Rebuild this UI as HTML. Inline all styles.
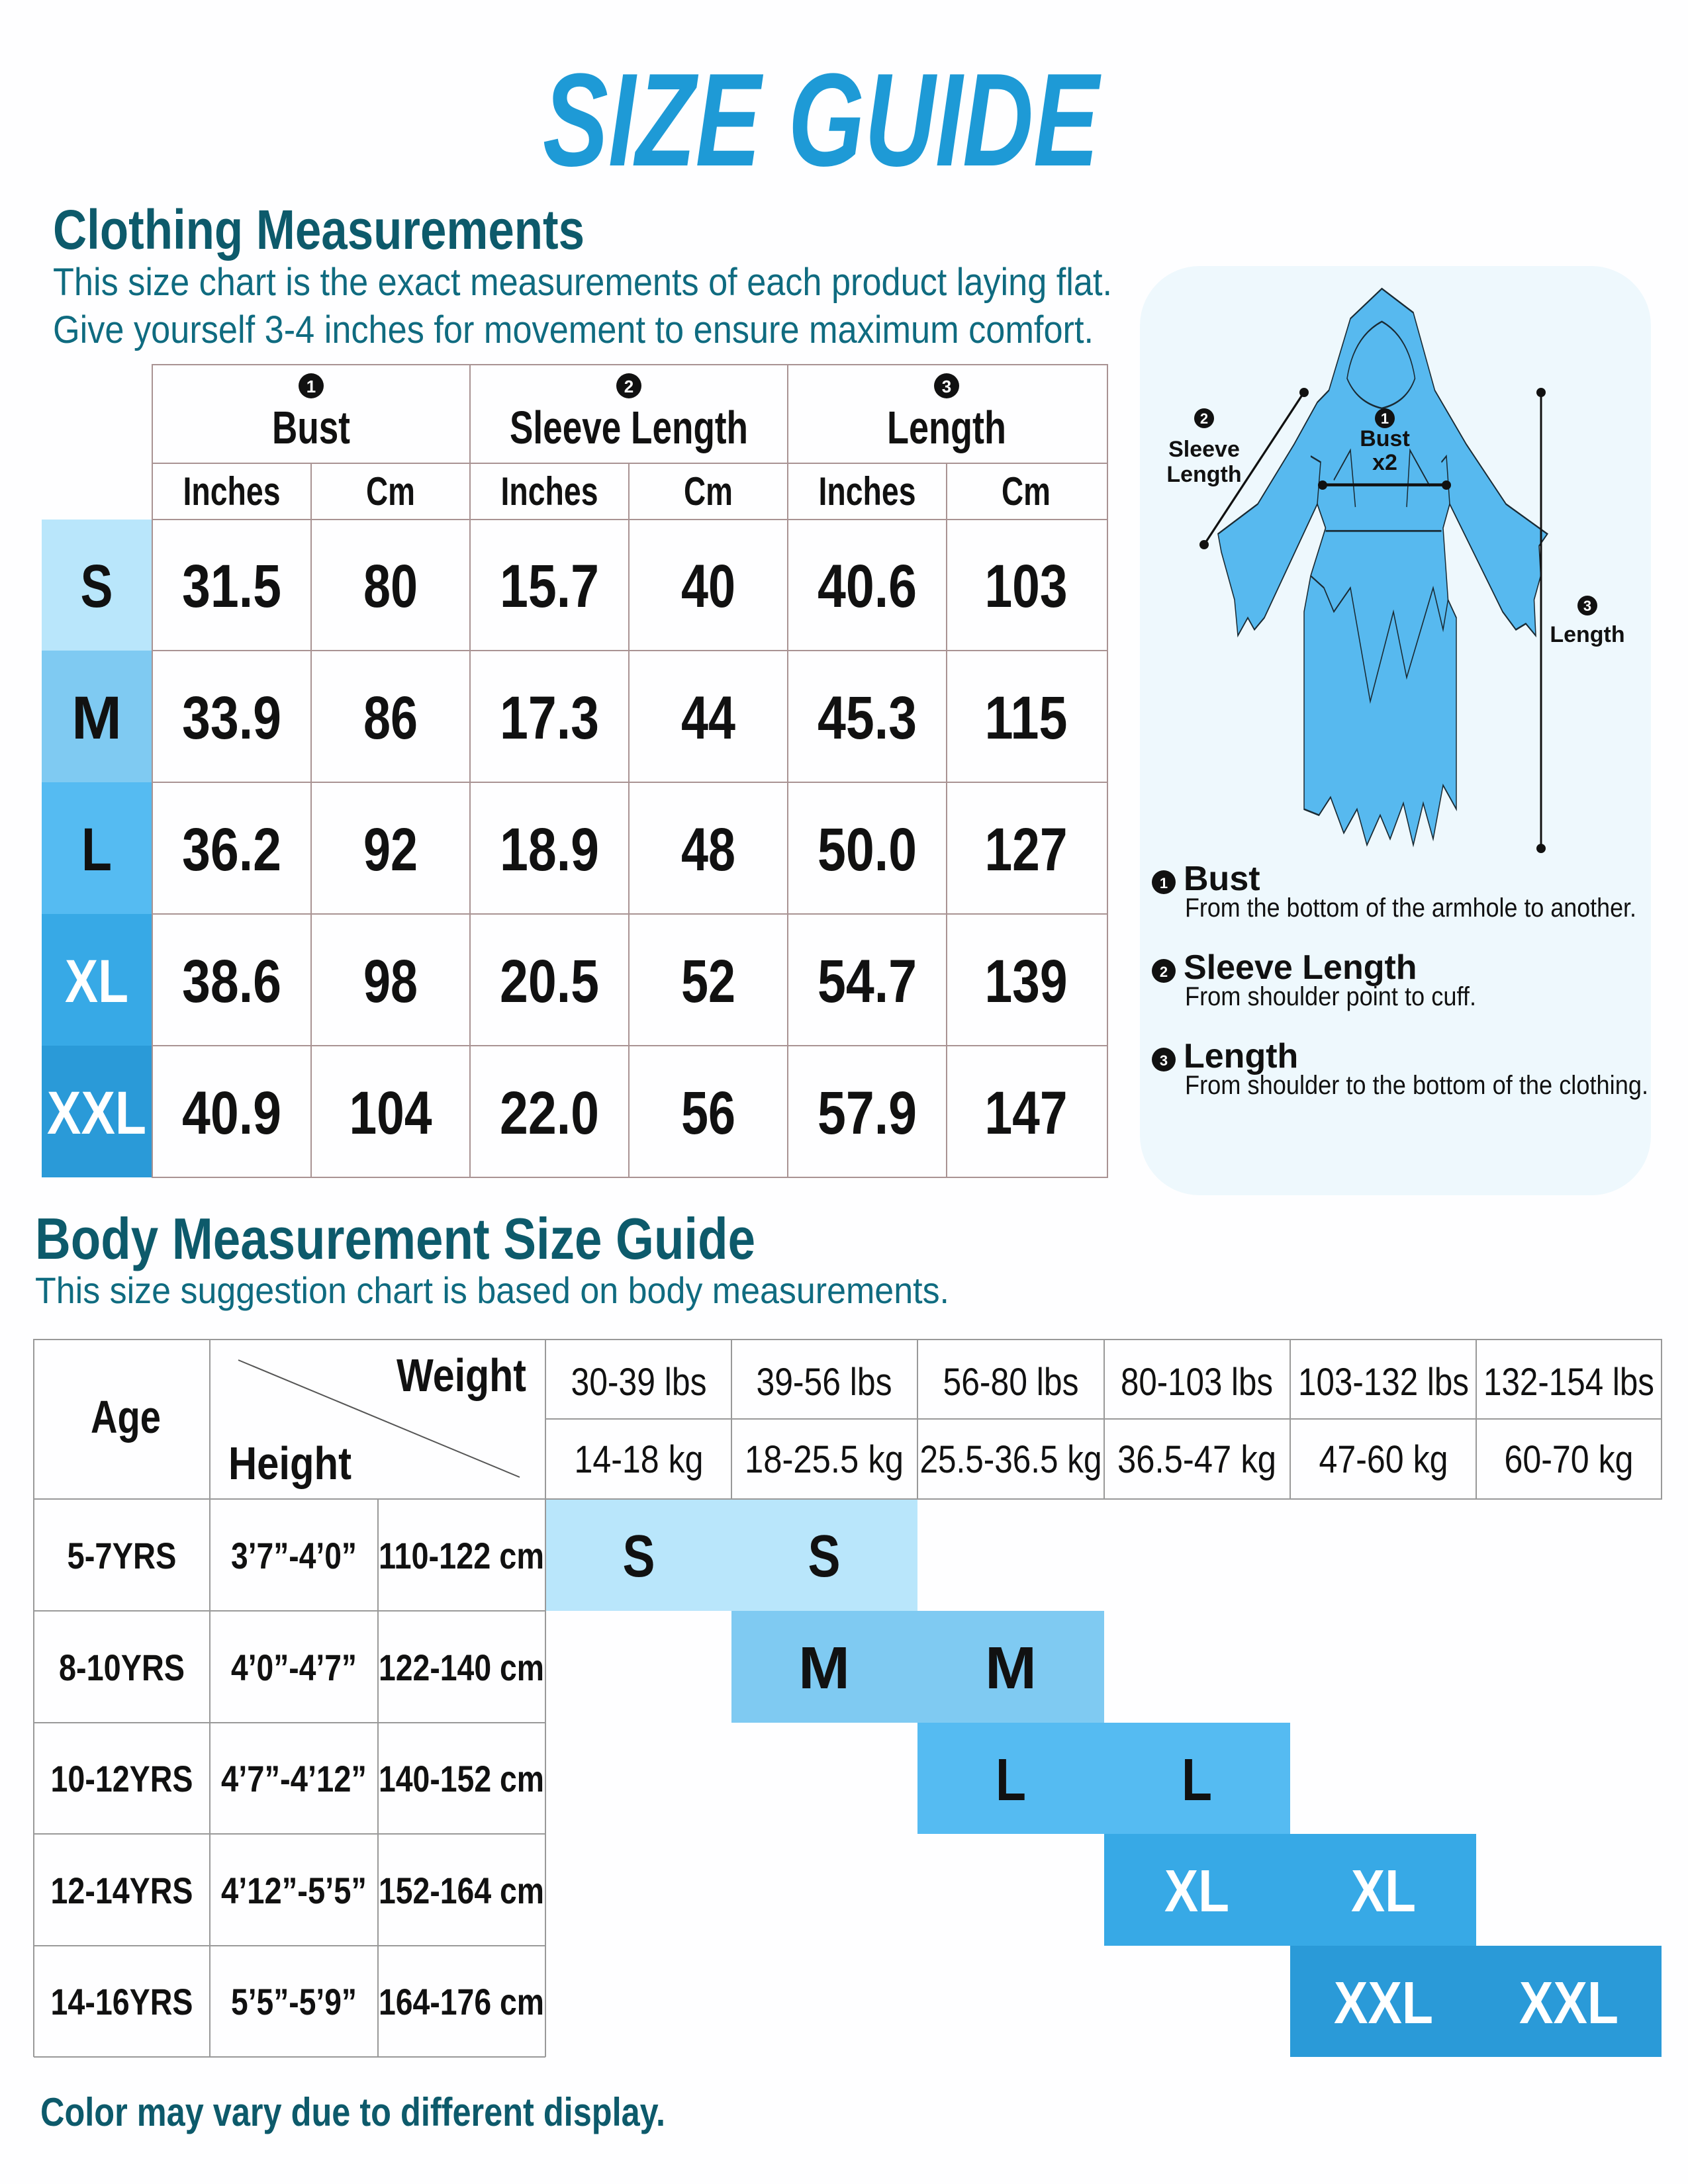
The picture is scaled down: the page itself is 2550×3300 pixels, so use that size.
<!DOCTYPE html>
<html><head><meta charset="utf-8"><style>
html,body{margin:0;padding:0;background:#fff}
svg{display:block}
</style></head><body>
<svg width="2550" height="3300" viewBox="0 0 2550 3300" xmlns="http://www.w3.org/2000/svg" font-family="'Liberation Sans Narrow','Liberation Sans',sans-serif">
<rect width="2550" height="3300" fill="#fefeff"/>
<text x="820" y="250" font-size="200" font-weight="bold" font-style="italic" fill="#1e9ad6" textLength="840" lengthAdjust="spacingAndGlyphs">SIZE GUIDE</text>
<text x="80" y="376" font-size="84" font-weight="bold" fill="#0d5a6b" textLength="803" lengthAdjust="spacingAndGlyphs">Clothing Measurements</text>
<text x="80" y="446" font-size="58" fill="#0f6b80" textLength="1600" lengthAdjust="spacingAndGlyphs">This size chart is the exact measurements of each product laying flat.</text>
<text x="80" y="518" font-size="58" fill="#0f6b80" textLength="1572" lengthAdjust="spacingAndGlyphs">Give yourself 3-4 inches for movement to ensure maximum comfort.</text>

<rect x="63" y="785" width="167" height="198" fill="#b9e6fb"/>
<rect x="63" y="983" width="167" height="199" fill="#7fcaf2"/>
<rect x="63" y="1182" width="167" height="199" fill="#55bbf2"/>
<rect x="63" y="1381" width="167" height="199" fill="#37a9e6"/>
<rect x="63" y="1580" width="167" height="199" fill="#2a9ad8"/>
<g font-size="92" font-weight="bold" text-anchor="middle" lengthAdjust="spacingAndGlyphs">
<text x="146" y="917" fill="#111" textLength="49" lengthAdjust="spacingAndGlyphs">S</text>
<text x="146" y="1116" fill="#111" textLength="76" lengthAdjust="spacingAndGlyphs">M</text>
<text x="146" y="1315" fill="#111" textLength="46" lengthAdjust="spacingAndGlyphs">L</text>
<text x="146" y="1514" fill="#fff" textLength="96" lengthAdjust="spacingAndGlyphs">XL</text>
<text x="146" y="1713" fill="#fff" textLength="150" lengthAdjust="spacingAndGlyphs">XXL</text>
</g>
<g stroke="#a99393" stroke-width="2" fill="none">
<rect x="230" y="551" width="1443" height="1228"/>
<line x1="230" y1="700" x2="1673" y2="700"/>
<line x1="230" y1="785" x2="1673" y2="785"/>
<line x1="230" y1="983" x2="1673" y2="983"/>
<line x1="230" y1="1182" x2="1673" y2="1182"/>
<line x1="230" y1="1381" x2="1673" y2="1381"/>
<line x1="230" y1="1580" x2="1673" y2="1580"/>
<line x1="710" y1="551" x2="710" y2="1779"/>
<line x1="1190" y1="551" x2="1190" y2="1779"/>
<line x1="470" y1="700" x2="470" y2="1779"/>
<line x1="950" y1="700" x2="950" y2="1779"/>
<line x1="1430" y1="700" x2="1430" y2="1779"/>
</g>
<g fill="#111">
<circle cx="470" cy="583" r="19"/><circle cx="950" cy="583" r="19"/><circle cx="1430" cy="583" r="19"/>
</g>
<g fill="#fff" font-size="26" font-weight="bold" text-anchor="middle" font-family="'Liberation Sans',sans-serif">
<text x="470" y="593">1</text><text x="950" y="593">2</text><text x="1430" y="593">3</text>
</g>
<g font-size="70" font-weight="bold" fill="#111" text-anchor="middle">
<text x="470" y="670" textLength="118" lengthAdjust="spacingAndGlyphs">Bust</text>
<text x="950" y="670" textLength="360" lengthAdjust="spacingAndGlyphs">Sleeve Length</text>
<text x="1430" y="670" textLength="180" lengthAdjust="spacingAndGlyphs">Length</text>
</g>
<g font-size="60" font-weight="bold" fill="#111" text-anchor="middle">
<text x="350" y="763" textLength="147" lengthAdjust="spacingAndGlyphs">Inches</text><text x="590" y="763" textLength="74" lengthAdjust="spacingAndGlyphs">Cm</text>
<text x="830" y="763" textLength="147" lengthAdjust="spacingAndGlyphs">Inches</text><text x="1070" y="763" textLength="74" lengthAdjust="spacingAndGlyphs">Cm</text>
<text x="1310" y="763" textLength="147" lengthAdjust="spacingAndGlyphs">Inches</text><text x="1550" y="763" textLength="74" lengthAdjust="spacingAndGlyphs">Cm</text>
</g>
<g font-size="92" font-weight="bold" fill="#111" text-anchor="middle">
<text x="350" y="917" textLength="150" lengthAdjust="spacingAndGlyphs">31.5</text><text x="590" y="917" textLength="82" lengthAdjust="spacingAndGlyphs">80</text><text x="830" y="917" textLength="150" lengthAdjust="spacingAndGlyphs">15.7</text><text x="1070" y="917" textLength="82" lengthAdjust="spacingAndGlyphs">40</text><text x="1310" y="917" textLength="150" lengthAdjust="spacingAndGlyphs">40.6</text><text x="1550" y="917" textLength="125" lengthAdjust="spacingAndGlyphs">103</text>
<text x="350" y="1116" textLength="150" lengthAdjust="spacingAndGlyphs">33.9</text><text x="590" y="1116" textLength="82" lengthAdjust="spacingAndGlyphs">86</text><text x="830" y="1116" textLength="150" lengthAdjust="spacingAndGlyphs">17.3</text><text x="1070" y="1116" textLength="82" lengthAdjust="spacingAndGlyphs">44</text><text x="1310" y="1116" textLength="150" lengthAdjust="spacingAndGlyphs">45.3</text><text x="1550" y="1116" textLength="125" lengthAdjust="spacingAndGlyphs">115</text>
<text x="350" y="1315" textLength="150" lengthAdjust="spacingAndGlyphs">36.2</text><text x="590" y="1315" textLength="82" lengthAdjust="spacingAndGlyphs">92</text><text x="830" y="1315" textLength="150" lengthAdjust="spacingAndGlyphs">18.9</text><text x="1070" y="1315" textLength="82" lengthAdjust="spacingAndGlyphs">48</text><text x="1310" y="1315" textLength="150" lengthAdjust="spacingAndGlyphs">50.0</text><text x="1550" y="1315" textLength="125" lengthAdjust="spacingAndGlyphs">127</text>
<text x="350" y="1514" textLength="150" lengthAdjust="spacingAndGlyphs">38.6</text><text x="590" y="1514" textLength="82" lengthAdjust="spacingAndGlyphs">98</text><text x="830" y="1514" textLength="150" lengthAdjust="spacingAndGlyphs">20.5</text><text x="1070" y="1514" textLength="82" lengthAdjust="spacingAndGlyphs">52</text><text x="1310" y="1514" textLength="150" lengthAdjust="spacingAndGlyphs">54.7</text><text x="1550" y="1514" textLength="125" lengthAdjust="spacingAndGlyphs">139</text>
<text x="350" y="1713" textLength="150" lengthAdjust="spacingAndGlyphs">40.9</text><text x="590" y="1713" textLength="125" lengthAdjust="spacingAndGlyphs">104</text><text x="830" y="1713" textLength="150" lengthAdjust="spacingAndGlyphs">22.0</text><text x="1070" y="1713" textLength="82" lengthAdjust="spacingAndGlyphs">56</text><text x="1310" y="1713" textLength="150" lengthAdjust="spacingAndGlyphs">57.9</text><text x="1550" y="1713" textLength="125" lengthAdjust="spacingAndGlyphs">147</text>
</g>

<rect x="1722" y="402" width="772" height="1404" rx="90" fill="#eef8fd"/>
<g transform="translate(1720,400) scale(0.5,0.904)">
<path d="M735,40 L830,80 L895,210 L990,300 L1110,400 L1235,450 L1210,470 L1215,520 L1195,560 L1200,620 L1170,600 L1140,610 L1100,580 L940,400 L920,440 L935,560 L960,590 L960,910 L920,870 L890,960 L860,900 L830,970 L800,900 L760,960 L730,920 L690,970 L660,910 L620,950 L580,890 L545,920 L500,910 L500,580 L520,520 L565,440 L540,400 L380,590 L350,610 L330,590 L300,620 L290,560 L270,520 L250,480 L240,450 L360,400 L470,300 L540,230 L575,210 L640,90 Z" fill="#57b9ef" stroke="#1a2a33" stroke-width="3"/>
<path d="M735,95 Q650,120 630,190 Q660,230 735,240 Q810,230 835,190 Q815,120 735,95 Z" fill="none" stroke="#1a2a33" stroke-width="3"/>
<path d="M565,445 L915,445" stroke="#1a2a33" stroke-width="3"/>
<path d="M540,400 L550,330 L520,320 M940,400 L930,320 L915,330" fill="none" stroke="#1a2a33" stroke-width="3"/>
<path d="M520,520 L560,540 L590,580 L640,540 L700,730 L770,580 L810,690 L890,540 L920,610 L935,560" fill="none" stroke="#1a2a33" stroke-width="3"/>
<path d="M655,405 L640,310 L590,360 M810,405 L820,310 L880,370" fill="none" stroke="#1a2a33" stroke-width="3"/>
<line x1="555" y1="368" x2="930" y2="368" stroke="#111" stroke-width="5"/>
<line x1="198" y1="468" x2="500" y2="213" stroke="#111" stroke-width="5"/>
<line x1="1216" y1="214" x2="1216" y2="976" stroke="#111" stroke-width="6"/>
</g>
<g fill="#111">
<circle cx="1998" cy="733" r="7"/><circle cx="2185" cy="733" r="7"/>
<circle cx="1819" cy="823" r="7"/><circle cx="1970" cy="593" r="7"/>
<circle cx="2328" cy="593" r="7"/><circle cx="2328" cy="1282" r="7"/>
<circle cx="1819" cy="632" r="15"/><circle cx="2092" cy="632" r="15"/><circle cx="2398" cy="915" r="15"/>
<circle cx="1758" cy="1333" r="18"/><circle cx="1758" cy="1467" r="18"/><circle cx="1758" cy="1601" r="18"/>
</g>
<g fill="#fff" font-size="22" font-weight="bold" text-anchor="middle" font-family="'Liberation Sans',sans-serif">
<text x="1819" y="640">2</text><text x="2092" y="640">1</text><text x="2398" y="923">3</text>
<text x="1758" y="1342">1</text><text x="1758" y="1476">2</text><text x="1758" y="1610">3</text>
</g>
<g font-family="'Liberation Sans',sans-serif" font-weight="bold" fill="#111" font-size="34" text-anchor="middle">
<text x="1819" y="690">Sleeve</text><text x="1819" y="728">Length</text>
<text x="2092" y="674">Bust</text><text x="2092" y="710">x2</text>
<text x="2398" y="970">Length</text>
</g>
<g fill="#111">
<text x="1788" y="1345" font-size="52" font-weight="bold">Bust</text>
<text x="1790" y="1385" font-size="40" textLength="682" lengthAdjust="spacingAndGlyphs">From the bottom of the armhole to another.</text>
<text x="1788" y="1479" font-size="52" font-weight="bold">Sleeve Length</text>
<text x="1790" y="1519" font-size="40" textLength="440" lengthAdjust="spacingAndGlyphs">From shoulder point to cuff.</text>
<text x="1788" y="1613" font-size="52" font-weight="bold">Length</text>
<text x="1790" y="1653" font-size="40" textLength="700" lengthAdjust="spacingAndGlyphs">From shoulder to the bottom of the clothing.</text>
</g>

<text x="53" y="1902" font-size="88" font-weight="bold" fill="#0d5a6b" textLength="1088" lengthAdjust="spacingAndGlyphs">Body Measurement Size Guide</text>
<text x="53" y="1969" font-size="56" fill="#0f6b80" textLength="1381" lengthAdjust="spacingAndGlyphs">This size suggestion chart is based on body measurements.</text>

<rect x="824" y="2265" width="562" height="169" fill="#b9e6fb"/>
<rect x="1105" y="2434" width="563" height="169" fill="#7fcaf2"/>
<rect x="1386" y="2603" width="563" height="168" fill="#55bbf2"/>
<rect x="1668" y="2771" width="562" height="169" fill="#37a9e6"/>
<rect x="1949" y="2940" width="561" height="168" fill="#2a9ad8"/>

<g stroke="#999" stroke-width="2" fill="none">
<rect x="51" y="2024" width="2459" height="241"/>
<line x1="824" y1="2144" x2="2510" y2="2144"/>
<line x1="317" y1="2024" x2="317" y2="3108"/>
<line x1="824" y1="2024" x2="824" y2="2265"/>
<line x1="1105" y1="2024" x2="1105" y2="2265"/>
<line x1="1386" y1="2024" x2="1386" y2="2265"/>
<line x1="1668" y1="2024" x2="1668" y2="2265"/>
<line x1="1949" y1="2024" x2="1949" y2="2265"/>
<line x1="2230" y1="2024" x2="2230" y2="2265"/>
<line x1="51" y1="2265" x2="51" y2="3108"/>
<line x1="571" y1="2265" x2="571" y2="3108"/>
<line x1="824" y1="2265" x2="824" y2="3108"/>
<line x1="51" y1="2434" x2="824" y2="2434"/>
<line x1="51" y1="2603" x2="824" y2="2603"/>
<line x1="51" y1="2771" x2="824" y2="2771"/>
<line x1="51" y1="2940" x2="824" y2="2940"/>
<line x1="51" y1="3108" x2="824" y2="3108"/>
<line x1="360" y1="2055" x2="785" y2="2232" stroke="#555"/>
</g>
<g font-weight="bold" fill="#111">
<text x="190" y="2165" font-size="70" text-anchor="middle" textLength="106" lengthAdjust="spacingAndGlyphs">Age</text>
<text x="795" y="2102" font-size="70" text-anchor="end" textLength="196" lengthAdjust="spacingAndGlyphs">Weight</text>
<text x="345" y="2235" font-size="70" textLength="186" lengthAdjust="spacingAndGlyphs">Height</text>
</g>
<g font-size="58" fill="#111" text-anchor="middle">
<text x="965" y="2108" textLength="205" lengthAdjust="spacingAndGlyphs">30-39 lbs</text>
<text x="1245" y="2108" textLength="205" lengthAdjust="spacingAndGlyphs">39-56 lbs</text>
<text x="1527" y="2108" textLength="205" lengthAdjust="spacingAndGlyphs">56-80 lbs</text>
<text x="1808" y="2108" textLength="230" lengthAdjust="spacingAndGlyphs">80-103 lbs</text>
<text x="2090" y="2108" textLength="258" lengthAdjust="spacingAndGlyphs">103-132 lbs</text>
<text x="2370" y="2108" textLength="258" lengthAdjust="spacingAndGlyphs">132-154 lbs</text>
<text x="965" y="2225" textLength="195" lengthAdjust="spacingAndGlyphs">14-18 kg</text>
<text x="1245" y="2225" textLength="240" lengthAdjust="spacingAndGlyphs">18-25.5 kg</text>
<text x="1527" y="2225" textLength="275" lengthAdjust="spacingAndGlyphs">25.5-36.5 kg</text>
<text x="1808" y="2225" textLength="240" lengthAdjust="spacingAndGlyphs">36.5-47 kg</text>
<text x="2090" y="2225" textLength="195" lengthAdjust="spacingAndGlyphs">47-60 kg</text>
<text x="2370" y="2225" textLength="195" lengthAdjust="spacingAndGlyphs">60-70 kg</text>
</g>
<g font-size="56" font-weight="bold" fill="#111" text-anchor="middle">
<text x="184" y="2370" textLength="165" lengthAdjust="spacingAndGlyphs">5-7YRS</text>
<text x="184" y="2539" textLength="190" lengthAdjust="spacingAndGlyphs">8-10YRS</text>
<text x="184" y="2707" textLength="215" lengthAdjust="spacingAndGlyphs">10-12YRS</text>
<text x="184" y="2876" textLength="215" lengthAdjust="spacingAndGlyphs">12-14YRS</text>
<text x="184" y="3044" textLength="215" lengthAdjust="spacingAndGlyphs">14-16YRS</text>
<text x="444" y="2370" textLength="190" lengthAdjust="spacingAndGlyphs">3’7”-4’0”</text>
<text x="444" y="2539" textLength="190" lengthAdjust="spacingAndGlyphs">4’0”-4’7”</text>
<text x="444" y="2707" textLength="220" lengthAdjust="spacingAndGlyphs">4’7”-4’12”</text>
<text x="444" y="2876" textLength="220" lengthAdjust="spacingAndGlyphs">4’12”-5’5”</text>
<text x="444" y="3044" textLength="190" lengthAdjust="spacingAndGlyphs">5’5”-5’9”</text>
<text x="697" y="2370" textLength="250" lengthAdjust="spacingAndGlyphs">110-122 cm</text>
<text x="697" y="2539" textLength="250" lengthAdjust="spacingAndGlyphs">122-140 cm</text>
<text x="697" y="2707" textLength="250" lengthAdjust="spacingAndGlyphs">140-152 cm</text>
<text x="697" y="2876" textLength="250" lengthAdjust="spacingAndGlyphs">152-164 cm</text>
<text x="697" y="3044" textLength="250" lengthAdjust="spacingAndGlyphs">164-176 cm</text>
</g>
<g font-size="90" font-weight="bold" text-anchor="middle">
<text x="965" y="2382" fill="#111" textLength="49" lengthAdjust="spacingAndGlyphs">S</text><text x="1245" y="2382" fill="#111" textLength="49" lengthAdjust="spacingAndGlyphs">S</text>
<text x="1245" y="2551" fill="#111" textLength="78" lengthAdjust="spacingAndGlyphs">M</text><text x="1527" y="2551" fill="#111" textLength="78" lengthAdjust="spacingAndGlyphs">M</text>
<text x="1527" y="2720" fill="#111" textLength="46" lengthAdjust="spacingAndGlyphs">L</text><text x="1808" y="2720" fill="#111" textLength="46" lengthAdjust="spacingAndGlyphs">L</text>
<text x="1808" y="2888" fill="#fff" textLength="98" lengthAdjust="spacingAndGlyphs">XL</text><text x="2090" y="2888" fill="#fff" textLength="98" lengthAdjust="spacingAndGlyphs">XL</text>
<text x="2090" y="3057" fill="#fff" textLength="150" lengthAdjust="spacingAndGlyphs">XXL</text><text x="2370" y="3057" fill="#fff" textLength="150" lengthAdjust="spacingAndGlyphs">XXL</text>
</g>
<text x="61" y="3212" font-size="60" font-weight="bold" fill="#0d5a6b" textLength="944" lengthAdjust="spacingAndGlyphs">Color may vary due to different display.</text>
</svg>
</body></html>
